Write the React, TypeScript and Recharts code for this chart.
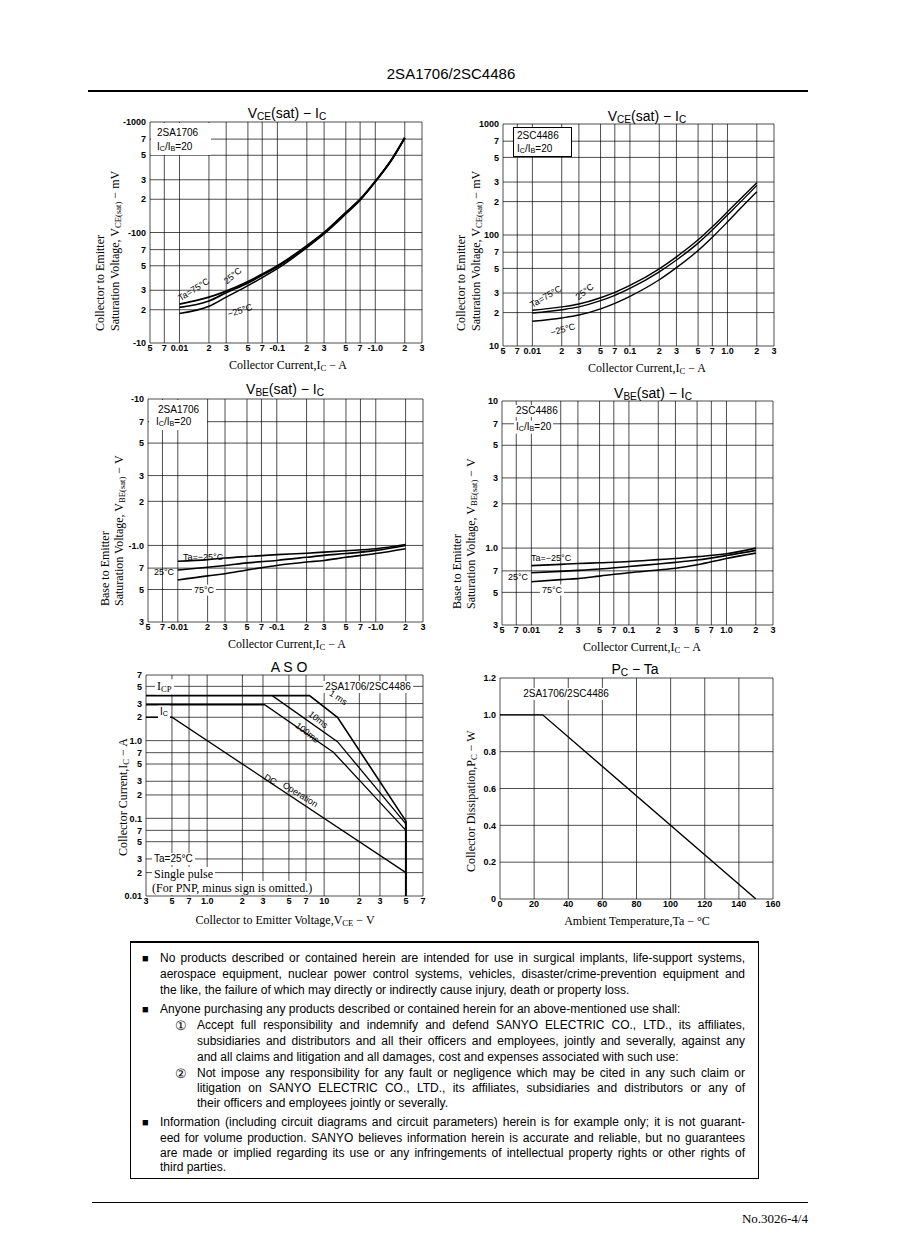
import React from "react";
import { LineChart, Line, XAxis, YAxis, CartesianGrid } from "recharts";

// ---------------------------------------------------------------------------
// Data
// ---------------------------------------------------------------------------
const icTicks = [0.005, 0.007, 0.01, 0.02, 0.03, 0.05, 0.07, 0.1, 0.2, 0.3, 0.5, 0.7, 1, 2, 3];
const icLabelsPnp = ["5", "7", "0.01", "2", "3", "5", "7", "-0.1", "2", "3", "5", "7", "-1.0", "2", "3"];
const icLabelsPnp2 = ["5", "7", "-0.01", "2", "3", "5", "7", "-0.1", "2", "3", "5", "7", "-1.0", "2", "3"];
const icLabelsNpn = ["5", "7", "0.01", "2", "3", "5", "7", "0.1", "2", "3", "5", "7", "1.0", "2", "3"];

const vceTicks = [10, 20, 30, 50, 70, 100, 200, 300, 500, 700, 1000];
const vceLabelsPnp = ["-10", "2", "3", "5", "7", "-100", "2", "3", "5", "7", "-1000"];
const vceLabelsNpn = ["10", "2", "3", "5", "7", "100", "2", "3", "5", "7", "1000"];

const vbeTicks = [0.3, 0.5, 0.7, 1, 2, 3, 5, 7, 10];
const vbeLabelsPnp = ["3", "5", "7", "-1.0", "2", "3", "5", "7", "-10"];
const vbeLabelsNpn = ["3", "5", "7", "1.0", "2", "3", "5", "7", "10"];

// VCE(sat) - IC, 2SA1706 (mV)
const icSatA = [0.01, 0.02, 0.03, 0.05, 0.07, 0.1, 0.2, 0.3, 0.5, 0.7, 1.0, 1.5, 2.0];
const vceA75 = [22.5, 26, 29.5, 36, 42, 50, 76, 100, 152, 200, 290, 470, 720];
const vceA25 = [21, 24, 28.5, 35, 41, 49, 75, 99, 150, 198, 290, 470, 720];
const vceAm25 = [18.5, 21.5, 26, 33, 39, 47, 73, 97, 147, 196, 287, 465, 710];

// VCE(sat) - IC, 2SC4486 (mV)
const icSatC = [0.01, 0.02, 0.03, 0.05, 0.07, 0.1, 0.2, 0.3, 0.5, 0.7, 1.0, 1.5, 2.0];
const vceC75 = [21, 22.5, 23.9, 27.2, 30.4, 35.1, 49.6, 63.6, 90.5, 118.7, 161.6, 230, 296];
const vceC25 = [19.8, 21.2, 22.5, 25.6, 28.6, 33, 46.5, 59.5, 84.5, 111, 151.5, 216, 280];
const vceCm25 = [16.7, 17.9, 19.0, 21.6, 24.2, 28, 39.5, 50.8, 72.5, 95.5, 131, 190, 245];

// VBE(sat) - IC (V)
const icBe = [0.01, 0.02, 0.03, 0.05, 0.1, 0.2, 0.3, 0.5, 1.0, 2.0];
const vbeAm25 = [0.78, 0.8, 0.82, 0.84, 0.865, 0.885, 0.9, 0.92, 0.95, 1.015];
const vbeA25 = [0.68, 0.71, 0.73, 0.76, 0.79, 0.83, 0.855, 0.88, 0.925, 1.0];
const vbeA75 = [0.58, 0.62, 0.64, 0.68, 0.73, 0.77, 0.79, 0.83, 0.88, 0.95];
const vbeCm25 = [0.76, 0.775, 0.785, 0.795, 0.81, 0.835, 0.85, 0.875, 0.915, 1.0];
const vbeC25 = [0.68, 0.695, 0.705, 0.72, 0.75, 0.78, 0.8, 0.83, 0.89, 0.965];
const vbeC75 = [0.59, 0.61, 0.62, 0.645, 0.68, 0.71, 0.73, 0.77, 0.85, 0.925];

// ASO
const vceAsoTicks = [0.3, 0.5, 0.7, 1, 2, 3, 5, 7, 10, 20, 30, 50, 70];
const vceAsoLabels = ["3", "5", "7", "1.0", "2", "3", "5", "7", "10", "2", "3", "5", "7"];
const icAsoTicks = [0.01, 0.02, 0.03, 0.05, 0.07, 0.1, 0.2, 0.3, 0.5, 0.7, 1, 2, 3, 5, 7];
const icAsoLabels = ["0.01", "2", "3", "5", "7", "0.1", "2", "3", "5", "7", "1.0", "2", "3", "5", "7"];
const ms1V = [0.3, 7.5, 13, 50];
const ms1I = [3.8, 3.8, 2.0, 0.092];
const ms10V = [3.6, 13, 50];
const ms10I = [3.8, 0.97, 0.085];
const ms100V = [0.3, 3.1, 12, 50];
const ms100I = [2.9, 2.9, 0.71, 0.07];
const dcV = [0.3, 0.5, 50];
const dcI = [2, 2, 0.02];
const limV = [50, 50];
const limI = [0.092, 0.01];

// PC - Ta
const taTicks = [0, 20, 40, 60, 80, 100, 120, 140, 160];
const taLabels = ["0", "20", "40", "60", "80", "100", "120", "140", "160"];
const pcTicks = [0, 0.2, 0.4, 0.6, 0.8, 1.0, 1.2];
const pcLabels = ["0", "0.2", "0.4", "0.6", "0.8", "1.0", "1.2"];
const taVals = [0, 25, 150];
const pcVals = [1.0, 1.0, 0];

const notes = [
  { x: 160, y: 958, j: true, b: true, t: "No products described or contained herein are intended for use in surgical implants, life-support systems," },
  { x: 160, y: 974, j: true, t: "aerospace equipment, nuclear power control systems, vehicles, disaster/crime-prevention equipment and" },
  { x: 160, y: 990, j: false, t: "the like, the failure of which may directly or indirectly cause injury, death or property loss." },
  { x: 160, y: 1009, j: false, b: true, t: "Anyone purchasing any products described or contained herein for an above-mentioned use shall:" },
  { x: 197, y: 1025, j: true, n: "①", t: "Accept full responsibility and indemnify and defend SANYO ELECTRIC CO., LTD., its affiliates," },
  { x: 197, y: 1041, j: true, t: "subsidiaries and distributors and all their officers and employees, jointly and severally, against any" },
  { x: 197, y: 1057, j: false, t: "and all claims and litigation and all damages, cost and expenses associated with such use:" },
  { x: 197, y: 1073, j: true, n: "②", t: "Not impose any responsibility for any fault or negligence which may be cited in any such claim or" },
  { x: 197, y: 1088, j: true, t: "litigation on SANYO ELECTRIC CO., LTD., its affiliates, subsidiaries and distributors or any of" },
  { x: 197, y: 1103, j: false, t: "their officers and employees jointly or severally." },
  { x: 160, y: 1122, j: true, b: true, t: "Information (including circuit diagrams and circuit parameters) herein is for example only; it is not guarant-" },
  { x: 160, y: 1138, j: true, t: "eed for volume production. SANYO believes information herein is accurate and reliable, but no guarantees" },
  { x: 160, y: 1153, j: true, t: "are made or implied regarding its use or any infringements of intellectual property rights or other rights of" },
  { x: 160, y: 1167, j: false, t: "third parties." },
];

// ---------------------------------------------------------------------------
// Helpers
// ---------------------------------------------------------------------------
const SANS = '"Liberation Sans", Arial, sans-serif';
const SERIF = '"Liberation Serif", "Times New Roman", serif';
const sub: React.CSSProperties = { fontSize: "0.72em", verticalAlign: "-0.2em" };

type Pt = { x: number; y: number };
const zip = (xs: number[], ys: number[]): Pt[] => xs.map((x, i) => ({ x, y: ys[i] }));

interface PlotProps {
  l: number;
  t: number;
  w: number;
  h: number;
  xTicks: number[];
  xLabels: string[];
  yTicks: number[];
  yLabels: string[];
  xLog?: boolean;
  yLog?: boolean;
  series: { pts: Pt[]; sw?: number; curve?: "monotone" | "linear" }[];
}

function Plot(p: PlotProps) {
  const ML = 40, MT = 10, MR = 12, XH = 20;
  const fmt = (ticks: number[], labels: string[]) => (v: number) => {
    const i = ticks.findIndex((t) => Math.abs(t - v) < 1e-9);
    return i >= 0 ? labels[i] : "";
  };
  const tick = { fontSize: 9, fontWeight: 700, fill: "#000", fontFamily: SANS };
  return (
    <div style={{ position: "absolute", left: p.l - ML, top: p.t - MT }}>
      <LineChart width={p.w + ML + MR} height={p.h + MT + XH} margin={{ top: MT, right: MR, bottom: 0, left: 0 }}>
        <CartesianGrid stroke="#000" strokeWidth={0.7} />
        <XAxis
          type="number"
          dataKey="x"
          scale={p.xLog ? "log" : "linear"}
          domain={[p.xTicks[0], p.xTicks[p.xTicks.length - 1]]}
          ticks={p.xTicks}
          interval={0}
          allowDataOverflow
          tickLine={false}
          axisLine={false}
          height={XH}
          tickSize={2}
          tickMargin={0}
          tick={tick}
          tickFormatter={fmt(p.xTicks, p.xLabels)}
        />
        <YAxis
          type="number"
          scale={p.yLog ? "log" : "linear"}
          domain={[p.yTicks[0], p.yTicks[p.yTicks.length - 1]]}
          ticks={p.yTicks}
          interval={0}
          allowDataOverflow
          tickLine={false}
          axisLine={false}
          width={ML}
          tickSize={2}
          tickMargin={2}
          tick={tick}
          tickFormatter={fmt(p.yTicks, p.yLabels)}
        />
        {p.series.map((s, i) => (
          <Line
            key={i}
            data={s.pts}
            dataKey="y"
            type={s.curve ?? "monotone"}
            stroke="#000"
            strokeWidth={s.sw ?? 1.4}
            dot={false}
            isAnimationActive={false}
          />
        ))}
      </LineChart>
    </div>
  );
}

function Txt({
  x, y, s = 10, f = SANS, rot = 0, a = "c", bg = false, w, children,
}: {
  x: number; y: number; s?: number; f?: string; rot?: number; a?: "c" | "l" | "r"; bg?: boolean; w?: number; children: React.ReactNode;
}) {
  const tx = a === "c" ? "-50%" : a === "r" ? "-100%" : "0";
  return (
    <div
      style={{
        position: "absolute",
        left: x,
        top: y,
        transform: `translate(${tx},-50%) rotate(${rot}deg)`,
        fontFamily: f,
        fontSize: s,
        fontWeight: w,
        lineHeight: 1,
        whiteSpace: "nowrap",
        background: bg ? "#fff" : undefined,
        padding: bg ? "1px 2px" : undefined,
      }}
    >
      {children}
    </div>
  );
}

// vertical (rotated) text running upward from (x, yB)
function VTxt({ x, yB, s = 12, children }: { x: number; yB: number; s?: number; children: React.ReactNode }) {
  return (
    <div
      style={{
        position: "absolute",
        left: x,
        top: yB,
        transformOrigin: "0 0",
        transform: "rotate(-90deg) translateY(-50%)",
        fontFamily: SERIF,
        fontSize: s,
        lineHeight: 1.1,
        whiteSpace: "nowrap",
      }}
    >
      {children}
    </div>
  );
}

const ICA = (
  <>
    Collector Current,I<span style={sub}>C</span> − A
  </>
);
const Ratio = (
  <>
    I<span style={sub}>C</span>/I<span style={sub}>B</span>=20
  </>
);

// ---------------------------------------------------------------------------
// Page
// ---------------------------------------------------------------------------
export default function App() {
  return (
    <div style={{ position: "absolute", left: 0, top: 0, width: 898, height: 1260, background: "#fff", overflow: "hidden", color: "#000" }}>
      {/* header */}
      <Txt x={451} y={73} s={15}>2SA1706/2SC4486</Txt>
      <div style={{ position: "absolute", left: 88, top: 90, width: 720, height: 2, background: "#000" }} />

      {/* VCE(sat) - IC, 2SA1706 */}
      <Plot
        l={150} t={122} w={272} h={221}
        xTicks={icTicks} xLabels={icLabelsPnp} yTicks={vceTicks} yLabels={vceLabelsPnp} xLog yLog
        series={[
          { pts: zip(icSatA, vceA75), sw: 1.8 },
          { pts: zip(icSatA, vceA25), sw: 1.8 },
          { pts: zip(icSatA, vceAm25), sw: 1.5 },
        ]}
      />
      <Txt x={287} y={114} s={14}>V<span style={sub}>CE</span>(sat) − I<span style={sub}>C</span></Txt>
      <div style={{ position: "absolute", left: 151, top: 123, width: 60, height: 32, background: "#fff" }} />
      <Txt x={157} y={133} a="l">2SA1706</Txt>
      <Txt x={157} y={147} a="l">{Ratio}</Txt>
      <Txt x={194} y={290} rot={-32} s={9}>Ta=75°C</Txt>
      <Txt x={233} y={276} rot={-40} s={9}>25°C</Txt>
      <Txt x={240} y={311} rot={-18} s={9}>−25°C</Txt>
      <VTxt x={101} yB={331}>Collector to Emitter</VTxt>
      <VTxt x={116} yB={331}>Saturation Voltage, V<span style={sub}>CE(sat)</span> − mV</VTxt>
      <Txt x={288} y={366} s={12} f={SERIF}>{ICA}</Txt>

      {/* VCE(sat) - IC, 2SC4486 */}
      <Plot
        l={503} t={124} w={271} h={222}
        xTicks={icTicks} xLabels={icLabelsNpn} yTicks={vceTicks} yLabels={vceLabelsNpn} xLog yLog
        series={[
          { pts: zip(icSatC, vceC75) },
          { pts: zip(icSatC, vceC25) },
          { pts: zip(icSatC, vceCm25) },
        ]}
      />
      <Txt x={647} y={117} s={14}>V<span style={sub}>CE</span>(sat) − I<span style={sub}>C</span></Txt>
      <div style={{ position: "absolute", left: 513, top: 127, width: 57, height: 28, background: "#fff", border: "1px solid #000" }} />
      <Txt x={517} y={136} a="l">2SC4486</Txt>
      <Txt x={517} y={149} a="l">{Ratio}</Txt>
      <Txt x={546} y={297} rot={-30} s={9}>Ta=75°C</Txt>
      <Txt x={585} y={292} rot={-38} s={9}>25°C</Txt>
      <Txt x={563} y={330} rot={-15} s={9}>−25°C</Txt>
      <VTxt x={462} yB={331}>Collector to Emitter</VTxt>
      <VTxt x={477} yB={331}>Saturation Voltage, V<span style={sub}>CE(sat)</span> − mV</VTxt>
      <Txt x={647} y={369} s={12} f={SERIF}>{ICA}</Txt>

      {/* VBE(sat) - IC, 2SA1706 */}
      <Plot
        l={148} t={399} w={275} h={223}
        xTicks={icTicks} xLabels={icLabelsPnp2} yTicks={vbeTicks} yLabels={vbeLabelsPnp} xLog yLog
        series={[
          { pts: zip(icBe, vbeAm25), sw: 1.6 },
          { pts: zip(icBe, vbeA25), sw: 1.6 },
          { pts: zip(icBe, vbeA75), sw: 1.6 },
        ]}
      />
      <Txt x={285} y={390} s={14}>V<span style={sub}>BE</span>(sat) − I<span style={sub}>C</span></Txt>
      <div style={{ position: "absolute", left: 149, top: 400, width: 58, height: 30, background: "#fff" }} />
      <Txt x={158} y={410} a="l">2SA1706</Txt>
      <Txt x={156} y={422} a="l">{Ratio}</Txt>
      <Txt x={183} y={557} a="l" s={9}>Ta=−25°C</Txt>
      <Txt x={164} y={572} s={9}>25°C</Txt>
      <Txt x={204} y={590} s={9} bg>75°C</Txt>
      <VTxt x={106} yB={606}>Base to Emitter</VTxt>
      <VTxt x={120} yB={606}>Saturation Voltage, V<span style={sub}>BE(sat)</span> − V</VTxt>
      <Txt x={287} y={645} s={12} f={SERIF}>{ICA}</Txt>

      {/* VBE(sat) - IC, 2SC4486 */}
      <Plot
        l={502} t={401} w={271} h={224}
        xTicks={icTicks} xLabels={icLabelsNpn} yTicks={vbeTicks} yLabels={vbeLabelsNpn} xLog yLog
        series={[
          { pts: zip(icBe, vbeCm25), sw: 1.6 },
          { pts: zip(icBe, vbeC25), sw: 1.6 },
          { pts: zip(icBe, vbeC75), sw: 1.6 },
        ]}
      />
      <Txt x={653} y={394} s={14}>V<span style={sub}>BE</span>(sat) − I<span style={sub}>C</span></Txt>
      <Txt x={514} y={411} a="l" bg>2SC4486</Txt>
      <Txt x={514} y={427} a="l" bg>{Ratio}</Txt>
      <Txt x={531} y={558} a="l" s={9}>Ta=−25°C</Txt>
      <Txt x={518} y={577} s={9}>25°C</Txt>
      <Txt x={552} y={590} s={9} bg>75°C</Txt>
      <VTxt x={458} yB={609}>Base to Emitter</VTxt>
      <VTxt x={472} yB={609}>Saturation Voltage, V<span style={sub}>BE(sat)</span> − V</VTxt>
      <Txt x={642} y={648} s={12} f={SERIF}>{ICA}</Txt>

      {/* ASO */}
      <Plot
        l={146} t={675} w={277} h={221}
        xTicks={vceAsoTicks} xLabels={vceAsoLabels} yTicks={icAsoTicks} yLabels={icAsoLabels} xLog yLog
        series={[
          { pts: zip(ms1V, ms1I), curve: "linear", sw: 1.6 },
          { pts: zip(ms10V, ms10I), curve: "linear", sw: 1.3 },
          { pts: zip(ms100V, ms100I), curve: "linear", sw: 1.3 },
          { pts: zip(dcV, dcI), curve: "linear", sw: 1.3 },
          { pts: zip(limV, limI), curve: "linear", sw: 2 },
        ]}
      />
      <Txt x={289} y={667} s={14}>A S O</Txt>
      <Txt x={368} y={687} s={10} bg>2SA1706/2SC4486</Txt>
      <Txt x={155} y={687} a="l" s={12} f={SERIF} bg>I<span style={sub}>CP</span></Txt>
      <Txt x={158} y={712} a="l" s={10} bg>I<span style={sub}>C</span></Txt>
      <Txt x={338} y={698} s={9} rot={33}>1 ms</Txt>
      <Txt x={318} y={720} s={9} rot={38}>10ms</Txt>
      <Txt x={307} y={733} s={9} rot={38}>100ms</Txt>
      <Txt x={270} y={780} s={9} rot={32}>DC</Txt>
      <Txt x={300} y={795} s={9} rot={32}>Operation</Txt>
      <Txt x={152} y={859} a="l" s={10} bg>Ta=25°C</Txt>
      <Txt x={152} y={874} a="l" s={12} f={SERIF} bg>Single pulse</Txt>
      <Txt x={150} y={888} a="l" s={12} f={SERIF} bg>(For PNP, minus sign is omitted.)</Txt>
      <VTxt x={124} yB={856}>Collector Current,I<span style={sub}>C</span> − A</VTxt>
      <Txt x={285} y={921} s={12} f={SERIF}>Collector to Emitter Voltage,V<span style={sub}>CE</span> − V</Txt>

      {/* PC - Ta */}
      <Plot
        l={500} t={678} w={273} h={221}
        xTicks={taTicks} xLabels={taLabels} yTicks={pcTicks} yLabels={pcLabels}
        series={[{ pts: zip(taVals, pcVals), curve: "linear", sw: 1.4 }]}
      />
      <Txt x={635} y={670} s={14}>P<span style={sub}>C</span> − Ta</Txt>
      <Txt x={566} y={694} s={10} bg>2SA1706/2SC4486</Txt>
      <VTxt x={472} yB={872}>Collector Dissipation,P<span style={sub}>C</span> − W</VTxt>
      <Txt x={637} y={921} s={12} f={SERIF}>Ambient Temperature,Ta − °C</Txt>

      {/* disclaimer */}
      <div style={{ position: "absolute", left: 130, top: 941, width: 627, height: 235, border: "1px solid #000", borderTopWidth: 2 }} />
      {notes.map((n, i) => (
        <React.Fragment key={i}>
          {n.b && <Txt x={142} y={n.y} a="l" s={11}>■</Txt>}
          {n.n && <Txt x={175} y={n.y} a="l" s={13}>{n.n}</Txt>}
          <div
            style={{
              position: "absolute",
              left: n.x,
              top: n.y - 7,
              width: 745 - n.x,
              fontFamily: SANS,
              fontSize: 12,
              lineHeight: "14px",
              whiteSpace: "nowrap",
              textAlign: n.j ? "justify" : "left",
              textAlignLast: n.j ? "justify" : "left",
            }}
          >
            {n.t}
          </div>
        </React.Fragment>
      ))}

      {/* footer */}
      <div style={{ position: "absolute", left: 92, top: 1202, width: 716, height: 1, background: "#000" }} />
      <Txt x={808} y={1218} a="r" s={13} f={SERIF}>No.3026-4/4</Txt>
    </div>
  );
}
